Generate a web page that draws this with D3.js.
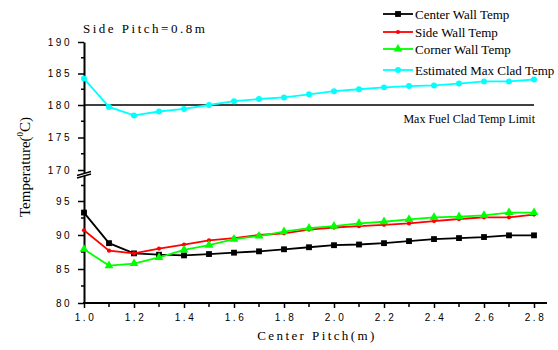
<!DOCTYPE html>
<html>
<head>
<meta charset="utf-8">
<script src="https://cdn.jsdelivr.net/npm/d3@7"></script>
<style>
body { margin: 0; background: #fff; }
.tick text { font-family: "Liberation Sans", Arial, sans-serif; font-size: 10px; letter-spacing: 2.5px; fill: #000; }
.serif { font-family: "Liberation Serif", "Times New Roman", serif; fill: #000; }
</style>
</head>
<body>
<div id="chart"></div>
<script>
var pitch = [1.0, 1.1, 1.2, 1.3, 1.4, 1.5, 1.6, 1.7, 1.8, 1.9, 2.0, 2.1, 2.2, 2.3, 2.4, 2.5, 2.6, 2.7, 2.8];
var centerWall = [93.3, 88.8, 87.3, 87.1, 87.0, 87.2, 87.4, 87.6, 87.9, 88.2, 88.5, 88.6, 88.8, 89.1, 89.4, 89.55, 89.7, 89.95, 89.95];
var sideWall = [90.7, 87.7, 87.3, 88.0, 88.6, 89.2, 89.55, 90.0, 90.25, 90.8, 91.1, 91.3, 91.5, 91.7, 92.05, 92.35, 92.6, 92.6, 93.0];
var cornerWall = [87.9, 85.5, 85.8, 86.7, 87.8, 88.5, 89.4, 89.85, 90.5, 91.0, 91.3, 91.7, 91.95, 92.3, 92.6, 92.7, 92.9, 93.3, 93.3];
var maxClad = [184.2, 179.7, 178.4, 179.0, 179.4, 180.0, 180.6, 180.95, 181.2, 181.7, 182.2, 182.5, 182.8, 183.0, 183.1, 183.4, 183.75, 183.75, 184.05];
var cladLimit = 180;
var yTicks = [80, 85, 90, 95, 170, 175, 180, 185, 190];
var yMinor = [82.5, 87.5, 92.5, 132.5, 172.5, 177.5, 182.5, 187.5];
var xTicks = [1.0, 1.2, 1.4, 1.6, 1.8, 2.0, 2.2, 2.4, 2.6, 2.8];
var xMinor = [1.1, 1.3, 1.5, 1.7, 1.9, 2.1, 2.3, 2.5, 2.7];

var width = 558, height = 350;

var svg = d3.select("#chart").append("svg")
	.attr("width", width)
	.attr("height", height);

// broken axis: lower part 80-95, gap, upper part 170-190
var x = d3.scaleLinear().domain([1.0, 2.8]).range([84, 534]);
var y = d3.scaleLinear().domain([80, 95, 170, 180, 190]).range([303, 201, 170, 105, 42]);

// x axis
var xAxis = svg.append("g").attr("transform", "translate(0,303)");
xAxis.call(d3.axisBottom(x).tickValues(xTicks).tickFormat(d3.format(".1f")).tickSize(5).tickPadding(6));
xAxis.select(".domain").remove();
xAxis.selectAll(".tick line").attr("stroke-width", 1.5);
xAxis.selectAll(".tick text").attr("dx", "1px");
xAxis.append("g").selectAll("line").data(xMinor).enter().append("line")
	.attr("x1", x).attr("x2", x).attr("y1", 0).attr("y2", 4)
	.attr("stroke", "#000").attr("stroke-width", 1.5);
xAxis.append("line").attr("x1", 83).attr("x2", 547).attr("y1", 0).attr("y2", 0)
	.attr("stroke", "#000").attr("stroke-width", 2);

// y axis
var yAxis = svg.append("g").attr("transform", "translate(84,0)");
yAxis.call(d3.axisLeft(y).tickValues(yTicks).tickFormat(d3.format("d")).tickSize(6).tickPadding(6).tickSizeOuter(0));
yAxis.select(".domain").attr("stroke-width", 2);
yAxis.selectAll(".tick line").attr("stroke-width", 1.5);
yAxis.append("g").selectAll("line").data(yMinor).enter().append("line")
	.attr("x1", -3).attr("x2", 0).attr("y1", y).attr("y2", y)
	.attr("stroke", "#000").attr("stroke-width", 1.5);

// break marks
var brk = svg.append("g");
brk.append("polygon").attr("points", "77,175.5 91,171.5 91,174 77,178").attr("fill", "#fff");
brk.append("line").attr("x1", 77).attr("y1", 175.5).attr("x2", 91).attr("y2", 171.5).attr("stroke", "#000").attr("stroke-width", 1.5);
brk.append("line").attr("x1", 77).attr("y1", 178).attr("x2", 91).attr("y2", 174).attr("stroke", "#000").attr("stroke-width", 1.5);

// clad temp limit line
svg.append("line")
	.attr("x1", x(1.0)).attr("x2", x(2.8))
	.attr("y1", y(cladLimit)).attr("y2", y(cladLimit))
	.attr("stroke", "#000").attr("stroke-width", 1.5);
svg.append("text").attr("class", "serif")
	.attr("x", 535).attr("y", 123)
	.attr("text-anchor", "end")
	.attr("font-size", "12px")
	.text("Max Fuel Clad Temp Limit");

var series = [
	{ name: "Center Wall Temp", values: centerWall, color: "#000000", symbol: d3.symbolSquare, size: 34 },
	{ name: "Side Wall Temp", values: sideWall, color: "#ff0000", symbol: d3.symbolCircle, size: 14 },
	{ name: "Corner Wall Temp", values: cornerWall, color: "#00ff00", symbol: d3.symbolTriangle, size: 34 },
	{ name: "Estimated Max Clad Temp", values: maxClad, color: "#00ffff", symbol: d3.symbolCircle, size: 28 }
];

var line = d3.line()
	.x(function(d, i) { return x(pitch[i]); })
	.y(function(d) { return y(d); });

series.forEach(function(s) {
	var g = svg.append("g");
	g.append("path")
		.attr("d", line(s.values))
		.attr("fill", "none")
		.attr("stroke", s.color)
		.attr("stroke-width", 1.8);
	g.selectAll("path.m").data(s.values).enter().append("path")
		.attr("class", "m")
		.attr("d", d3.symbol().type(s.symbol).size(s.size))
		.attr("fill", s.color)
		.attr("transform", function(d, i) { return "translate(" + x(pitch[i]) + "," + y(d) + ")"; });
});

// legend
var legendY = [14, 32, 49, 70];
var legend = svg.append("g");
series.forEach(function(s, i) {
	var row = legend.append("g").attr("transform", "translate(383," + legendY[i] + ")");
	row.append("line").attr("x1", 0).attr("x2", 30).attr("y1", 0).attr("y2", 0)
		.attr("stroke", s.color).attr("stroke-width", 1.8);
	row.append("path").attr("d", d3.symbol().type(s.symbol).size(s.size))
		.attr("transform", "translate(15,0)").attr("fill", s.color);
	row.append("text").attr("class", "serif")
		.attr("x", 32).attr("y", 4.5)
		.attr("font-size", "13px")
		.text(s.name);
});

// title and labels
svg.append("text").attr("class", "serif")
	.attr("x", 83).attr("y", 33)
	.attr("font-size", "13px")
	.attr("letter-spacing", "2.5px")
	.text("Side Pitch=0.8m");

svg.append("text").attr("class", "serif")
	.attr("x", 317).attr("y", 340)
	.attr("text-anchor", "middle")
	.attr("font-size", "13px")
	.attr("letter-spacing", "2.4px")
	.text("Center Pitch(m)");

var yl = svg.append("text").attr("class", "serif")
	.attr("transform", "translate(30,167) rotate(-90)")
	.attr("text-anchor", "middle")
	.attr("font-size", "15px");
yl.append("tspan").text("Temperature(");
yl.append("tspan").attr("font-size", "9px").attr("dy", "-7").text("0");
yl.append("tspan").attr("dy", "7").text("C)");
</script>
</body>
</html>
